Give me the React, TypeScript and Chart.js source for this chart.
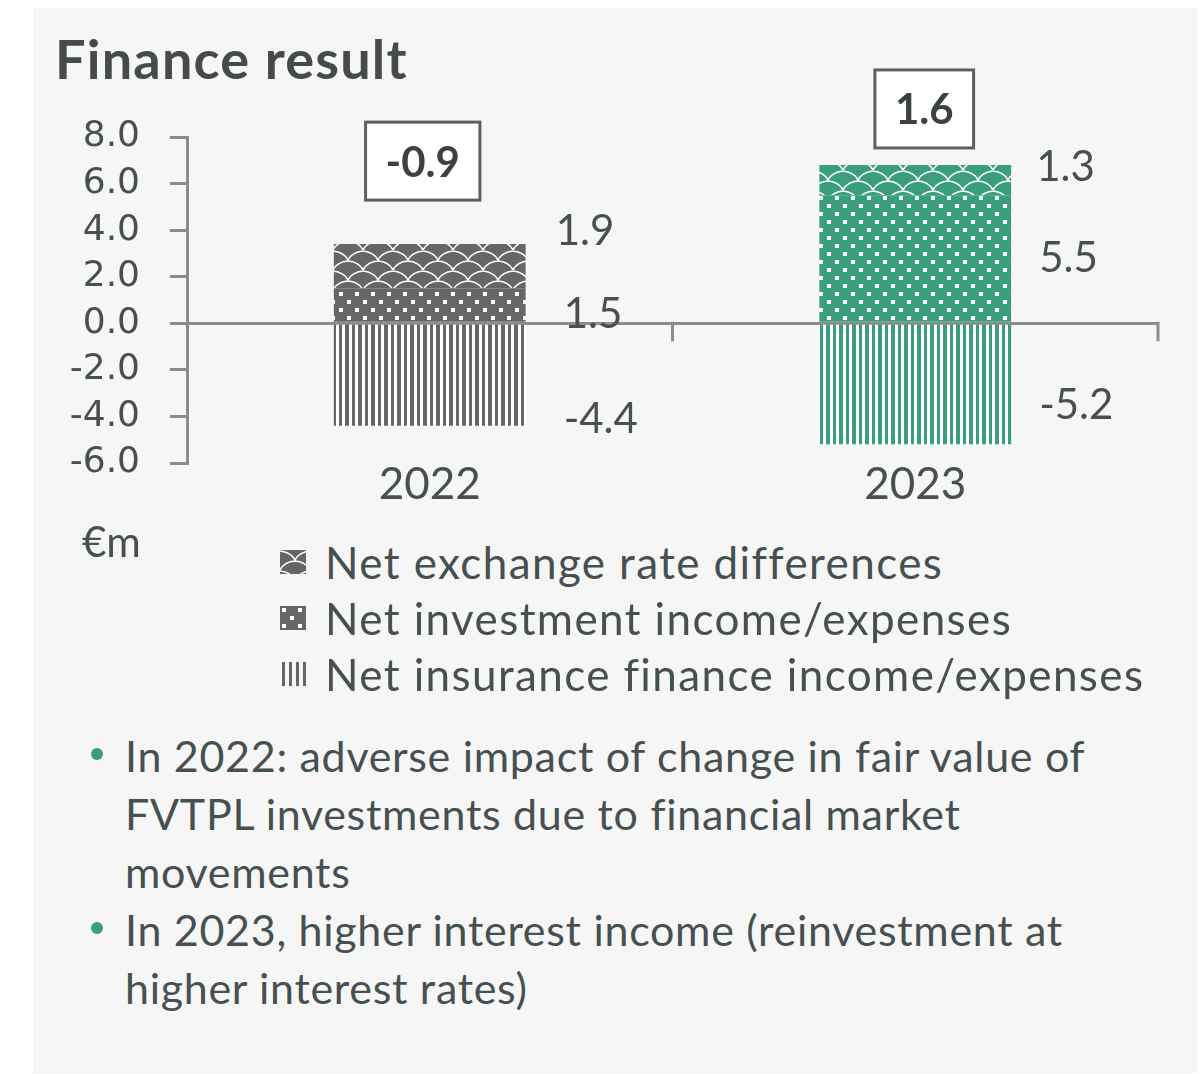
import React, { useEffect, useRef } from 'react';
import { Chart, registerables } from 'chart.js';

Chart.register(...registerables);

// ---- data ----
const CATEGORIES = ['2022', '2023'];
const SERIES_NAMES = [
  'Net exchange rate differences',
  'Net investment income/expenses',
  'Net insurance finance income/expenses',
];
const EXCHANGE = [1.9, 1.3];
const INVESTMENT = [1.5, 5.5];
const INSURANCE = [-4.4, -5.2];
const TOTALS = ['-0.9', '1.6'];
const Y_MIN = -6;
const Y_MAX = 8;
const Y_STEP = 2;
const BULLETS = [
  ['In 2022: adverse impact of change in fair value of', 'FVTPL investments due to financial market', 'movements'],
  ['In 2023, higher interest income (reinvestment at', 'higher interest rates)'],
];

// ---- label placement (pixels, relative to the bar) ----
const LABEL_OFFSETS_EXCHANGE = [[30, -35], [25, -13]];
const LABEL_OFFSETS_INVESTMENT = [[38, 9], [28, 0]];
const LABEL_OFFSETS_INSURANCE = [[38, 44], [28, 21]];
const TOTAL_OFFSETS = [[-7, -83], [9, -56]];

// ---- layout / styles ----
const CANVAS_W = 1165;
const CANVAS_H = 480;
const AREA_TOP = 87;
const AREA_BOTTOM = 413;
const GRAY = '#666666';
const GREEN = '#3a9e7e';
const BAR_COLORS = [GRAY, GREEN];
const AXIS = '#8c8c8c';
const TEXT = '#475050';

function makePattern(kind: string, color: string): CanvasPattern {
  const c = document.createElement('canvas');
  const ctx = c.getContext('2d')!;
  if (kind === 'stripes') {
    c.width = 13; c.height = 4;
    ctx.fillStyle = '#ffffff'; ctx.fillRect(0, 0, 13, 4);
    ctx.fillStyle = color;
    ctx.fillRect(0, 0, 4, 4);
    ctx.fillRect(7, 0, 3, 4);
  } else if (kind === 'dots') {
    c.width = 16; c.height = 16;
    ctx.fillStyle = color; ctx.fillRect(0, 0, 16, 16);
    ctx.fillStyle = '#ffffff';
    ctx.fillRect(2, 2, 4, 4);
    ctx.fillRect(10, 10, 4, 4);
  } else {
    c.width = 30; c.height = 20;
    ctx.fillStyle = color; ctx.fillRect(0, 0, 30, 20);
    ctx.strokeStyle = '#ffffff'; ctx.lineWidth = 1.6;
    ctx.beginPath();
    ctx.moveTo(0, 1); ctx.quadraticCurveTo(11, 2, 15, 10); ctx.quadraticCurveTo(19, 2, 30, 1);
    ctx.stroke();
    ctx.beginPath();
    ctx.moveTo(-15, 11); ctx.quadraticCurveTo(-4, 12, 0, 20); ctx.quadraticCurveTo(4, 12, 15, 11);
    ctx.quadraticCurveTo(26, 12, 30, 20); ctx.quadraticCurveTo(34, 12, 45, 11);
    ctx.stroke();
  }
  return ctx.createPattern(c, 'repeat')!;
}

const labelPlugin = {
  id: 'customLabels',
  afterDraw(chart: any) {
    const ctx = chart.ctx;
    const ys = chart.scales.y;
    const xs = chart.scales.x;
    ctx.save();
    // zero-line tick marks at category boundaries
    const zeroY = ys.getPixelForValue(0);
    ctx.strokeStyle = AXIS;
    ctx.lineWidth = 3;
    const bounds = [
      (xs.getPixelForValue(0) + xs.getPixelForValue(1)) / 2,
      chart.chartArea.right,
    ];
    bounds.forEach((bx) => {
      ctx.beginPath();
      ctx.moveTo(bx, zeroY - 1.5);
      ctx.lineTo(bx, zeroY + 18);
      ctx.stroke();
    });
    // segment labels
    ctx.fillStyle = TEXT;
    ctx.font = '42px Lato';
    ctx.textAlign = 'left';
    ctx.textBaseline = 'middle';
    chart.data.datasets.forEach((ds: any, di: number) => {
      const meta = chart.getDatasetMeta(di);
      meta.data.forEach((bar: any, i: number) => {
        const p = bar.getProps(['x', 'y', 'base', 'width'], true);
        const off = ds.labelOffsets[i];
        ctx.fillText(Number(ds.data[i]).toFixed(1), p.x + p.width / 2 + off[0], (p.y + p.base) / 2 + off[1]);
      });
    });
    // total boxes
    ctx.font = 'bold 42px Lato';
    ctx.textAlign = 'center';
    CATEGORIES.forEach((_, i) => {
      const top = ys.getPixelForValue(EXCHANGE[i] + INVESTMENT[i]);
      const cx = xs.getPixelForValue(i) + TOTAL_OFFSETS[i][0];
      const cy = top + TOTAL_OFFSETS[i][1];
      const w = ctx.measureText(TOTALS[i]).width + 40;
      const h = 78;
      ctx.fillStyle = '#ffffff';
      ctx.fillRect(cx - w / 2, cy - h / 2, w, h);
      ctx.strokeStyle = '#5f5f5f';
      ctx.lineWidth = 3;
      ctx.strokeRect(cx - w / 2, cy - h / 2, w, h);
      ctx.fillStyle = '#3c4242';
      ctx.fillText(TOTALS[i], cx, cy + 2);
    });
    ctx.restore();
  },
};

export default function App() {
  const canvasRef = useRef<HTMLCanvasElement>(null);
  const swatchRefs = useRef<(HTMLCanvasElement | null)[]>([]);

  useEffect(() => {
    const pats = {
      shingle: BAR_COLORS.map((c) => makePattern('shingle', c)),
      dots: BAR_COLORS.map((c) => makePattern('dots', c)),
      stripes: BAR_COLORS.map((c) => makePattern('stripes', c)),
    };
    const chart: any = new Chart(canvasRef.current!, {
      type: 'bar',
      data: {
        labels: CATEGORIES,
        datasets: [
          {
            label: SERIES_NAMES[1],
            data: INVESTMENT,
            backgroundColor: (c: any) => pats.dots[c.dataIndex],
            labelOffsets: LABEL_OFFSETS_INVESTMENT,
          } as any,
          {
            label: SERIES_NAMES[0],
            data: EXCHANGE,
            backgroundColor: (c: any) => pats.shingle[c.dataIndex],
            labelOffsets: LABEL_OFFSETS_EXCHANGE,
          } as any,
          {
            label: SERIES_NAMES[2],
            data: INSURANCE,
            backgroundColor: (c: any) => pats.stripes[c.dataIndex],
            labelOffsets: LABEL_OFFSETS_INSURANCE,
          } as any,
        ],
      },
      options: {
        animation: false,
        responsive: false,
        devicePixelRatio: 1,
        layout: { padding: { top: AREA_TOP, right: 40, left: 0, bottom: 7 } },
        datasets: { bar: { categoryPercentage: 1, barPercentage: 0.395, borderWidth: 0 } },
        plugins: { legend: { display: false }, tooltip: { enabled: false }, title: { display: false } },
        scales: {
          x: {
            stacked: true,
            grid: { display: false, drawTicks: false },
            border: { display: false },
            ticks: { color: TEXT, font: { family: 'Lato', size: 44, lineHeight: 1 }, padding: 0 },
            afterFit: (s: any) => { s.height = 60; },
          },
          y: {
            stacked: true,
            min: Y_MIN,
            max: Y_MAX,
            z: 1,
            border: { display: true, color: AXIS, width: 3 },
            grid: {
              drawOnChartArea: true,
              color: (c: any) => (c.tick && c.tick.value === 0 ? AXIS : 'rgba(0,0,0,0)'),
              lineWidth: 3,
              tickColor: AXIS,
              tickWidth: 3,
              tickLength: 17,
            },
            ticks: {
              stepSize: Y_STEP,
              autoSkip: false,
              color: TEXT,
              padding: 30,
              font: { family: 'DejaVu Sans', size: 36 },
              callback: (v: any) => Number(v).toFixed(1),
            },
            afterFit: (s: any) => { s.width = 154; },
          },
        },
      },
      plugins: [labelPlugin],
    } as any);

    // pin the plot area to the reference position
    for (let k = 0; k < 3; k++) {
      const pad = chart.options.layout.padding;
      const dTop = AREA_TOP - chart.chartArea.top;
      const dBottom = chart.chartArea.bottom - AREA_BOTTOM;
      if (Math.abs(dTop) < 0.5 && Math.abs(dBottom) < 0.5) break;
      pad.top = pad.top + dTop;
      pad.bottom = Math.max(0, pad.bottom + dBottom);
      chart.update();
    }

    const swatchKinds = ['shingle', 'dots', 'stripes'];
    swatchKinds.forEach((k, i) => {
      const cv = swatchRefs.current[i];
      if (!cv) return;
      const ctx = cv.getContext('2d')!;
      ctx.clearRect(0, 0, cv.width, cv.height);
      if (k === 'stripes') {
        ctx.fillStyle = GRAY;
        for (let x = 2; x < cv.width; x += 7) ctx.fillRect(x, 0, 3, cv.height);
      } else {
        ctx.fillStyle = makePattern(k, GRAY);
        ctx.fillRect(0, 0, cv.width, cv.height);
      }
    });

    return () => chart.destroy();
  }, []);

  const font = 'Lato, "Open Sans", sans-serif';

  return (
    <div style={{ position: 'absolute', left: 0, top: 0, width: 1203, height: 1074, background: '#ffffff', fontFamily: font, color: TEXT }}>
      <div style={{ position: 'absolute', left: 33, top: 8, width: 1165, height: 1065, background: '#f6f6f6' }} />
      <div style={{ position: 'absolute', left: 55, top: 32, fontSize: 54, fontWeight: 700, lineHeight: 1, letterSpacing: '1.2px', color: '#454b4b', whiteSpace: 'nowrap' }}>
        Finance result
      </div>
      <canvas ref={canvasRef} width={CANVAS_W} height={CANVAS_H} style={{ position: 'absolute', left: 33, top: 50, width: CANVAS_W, height: CANVAS_H }} />
      <div style={{ position: 'absolute', left: 82, top: 520, fontSize: 42, lineHeight: 1, whiteSpace: 'nowrap' }}>€m</div>
      {SERIES_NAMES.map((name, i) => (
        <div key={name} style={{ position: 'absolute', left: 280, top: 534 + i * 56, height: 56, display: 'flex', alignItems: 'center', whiteSpace: 'nowrap' }}>
          <canvas ref={(el) => { swatchRefs.current[i] = el; }} width={26} height={24} style={{ width: 26, height: 24, display: 'block' }} />
          <span style={{ marginLeft: 19, fontSize: 44, lineHeight: '56px', letterSpacing: '1.4px' }}>{name}</span>
        </div>
      ))}
      <div style={{ position: 'absolute', left: 0, top: 727 }}>
        {BULLETS.map((lines, bi) => (
          <div key={bi} style={{ position: 'relative' }}>
            <div style={{ position: 'absolute', left: 91, top: 21, width: 12, height: 12, borderRadius: 6, background: GREEN }} />
            {lines.map((ln, li) => (
              <div key={li} style={{ marginLeft: 125, fontSize: 43, lineHeight: '58px', letterSpacing: '0.7px', whiteSpace: 'nowrap' }}>{ln}</div>
            ))}
          </div>
        ))}
      </div>
    </div>
  );
}
